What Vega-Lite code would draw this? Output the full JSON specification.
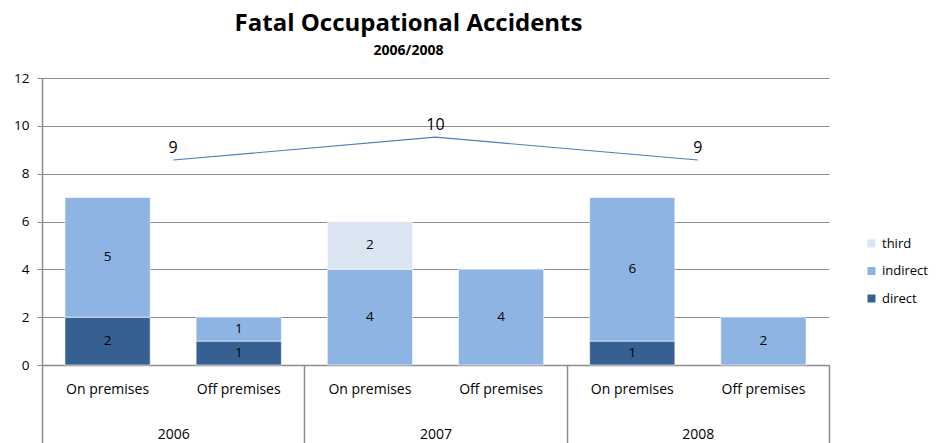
{
  "$schema": "https://vega.github.io/schema/vega-lite/v6.json",
  "width": 787,
  "height": 287,
  "autosize": {"type": "none"},
  "padding": {"left": 42, "top": 78, "right": 107, "bottom": 78},
  "title": {
    "text": "Fatal Occupational Accidents",
    "subtitle": "2006/2008",
    "anchor": "middle",
    "frame": "group",
    "dx": -27,
    "offset": 13,
    "font": "Open Sans",
    "fontSize": 24,
    "fontWeight": "bold",
    "color": "#000000",
    "subtitleFont": "Open Sans",
    "subtitleFontSize": 14,
    "subtitleFontWeight": "bold",
    "subtitleColor": "#000000",
    "subtitlePadding": 8
  },
  "config": {"view": {"stroke": null}, "font": "Open Sans"},
  "data": {
    "values": [
      {"year": "2006", "premises": "On premises", "type": "direct", "count": 2},
      {"year": "2006", "premises": "On premises", "type": "indirect", "count": 5},
      {"year": "2006", "premises": "Off premises", "type": "direct", "count": 1},
      {"year": "2006", "premises": "Off premises", "type": "indirect", "count": 1},
      {"year": "2007", "premises": "On premises", "type": "indirect", "count": 4},
      {"year": "2007", "premises": "On premises", "type": "third", "count": 2},
      {"year": "2007", "premises": "Off premises", "type": "indirect", "count": 4},
      {"year": "2008", "premises": "On premises", "type": "direct", "count": 1},
      {"year": "2008", "premises": "On premises", "type": "indirect", "count": 6},
      {"year": "2008", "premises": "Off premises", "type": "indirect", "count": 2}
    ]
  },
  "layer": [
    {
      "transform": [
        {"calculate": "datum.year + ' ' + datum.premises", "as": "bar"},
        {"stack": "count", "groupby": ["bar"], "sort": [{"field": "type", "order": "ascending"}], "as": ["y0", "y1"]},
        {"calculate": "(datum.y0 + datum.y1) / 2", "as": "mid"}
      ],
      "encoding": {
        "x": {
          "field": "bar",
          "type": "nominal",
          "sort": ["2006 On premises", "2006 Off premises", "2007 On premises", "2007 Off premises", "2008 On premises", "2008 Off premises"],
          "scale": {"paddingInner": 0.35, "paddingOuter": 0.175},
          "axis": {
            "orient": "bottom",
            "title": null,
            "ticks": false,
            "labelAngle": 0,
            "labelExpr": "substring(datum.label, 5)",
            "labelFont": "Open Sans",
            "labelFontSize": 14,
            "labelPadding": 17,
            "labelColor": "#000000",
            "domainColor": "#8c8c8c",
            "domainWidth": 1.5
          }
        }
      },
      "layer": [
        {
          "mark": {"type": "bar", "stroke": "white", "strokeWidth": 0.6},
          "encoding": {
            "y": {
              "field": "y0",
              "type": "quantitative",
              "scale": {"domain": [0, 12]},
              "axis": {
                "title": null,
                "values": [0, 2, 4, 6, 8, 10, 12],
                "grid": true,
                "gridColor": "#8c8c8c",
                "tickColor": "#8c8c8c",
                "domainColor": "#8c8c8c",
                "domainWidth": 1.5,
                "tickSize": 5,
                "labelPadding": 8,
                "labelFont": "Open Sans",
                "labelFontSize": 13.5,
                "labelColor": "#000000"
              }
            },
            "y2": {"field": "y1"},
            "color": {
              "field": "type",
              "type": "nominal",
              "scale": {"domain": ["third", "indirect", "direct"], "range": ["#dbe5f1", "#8eb4e3", "#376092"]},
              "legend": {
                "title": null,
                "orient": "none",
                "legendX": 823,
                "legendY": 159,
                "symbolType": "square",
                "symbolSize": 64,
                "symbolStrokeWidth": 0,
                "labelFont": "Open Sans",
                "labelFontSize": 13,
                "labelColor": "#000000",
                "rowPadding": 13.5
              }
            }
          }
        },
        {
          "mark": {"type": "text", "fontSize": 13.5, "font": "Open Sans", "color": "#000000"},
          "encoding": {
            "y": {"field": "mid", "type": "quantitative"},
            "text": {"field": "count", "type": "quantitative"}
          }
        }
      ]
    },
    {
      "transform": [
        {"aggregate": [{"op": "sum", "field": "count", "as": "total"}], "groupby": ["year"]}
      ],
      "encoding": {
        "x": {
          "field": "year",
          "type": "nominal",
          "scale": {"type": "band", "paddingInner": 0, "paddingOuter": 0},
          "axis": {
            "orient": "bottom",
            "title": null,
            "tickBand": "extent",
            "tickSize": 78,
            "tickColor": "#8c8c8c",
            "tickWidth": 1.5,
            "labelPadding": -16,
            "domain": false,
            "labelAngle": 0,
            "labelFont": "Open Sans",
            "labelFontSize": 14,
            "labelColor": "#000000"
          }
        },
        "y": {"field": "total", "type": "quantitative", "scale": {"domain": [0, 12.6]}, "axis": null}
      },
      "layer": [
        {"mark": {"type": "line", "color": "#4a7ebb", "strokeWidth": 1.2}},
        {"mark": {"type": "text", "dy": -12, "fontSize": 16, "font": "Open Sans", "color": "#000000"}, "encoding": {"text": {"field": "total", "type": "quantitative"}}}
      ]
    }
  ],
  "resolve": {
    "scale": {"x": "independent", "y": "independent"},
    "axis": {"x": "independent", "y": "independent"}
  }
}
